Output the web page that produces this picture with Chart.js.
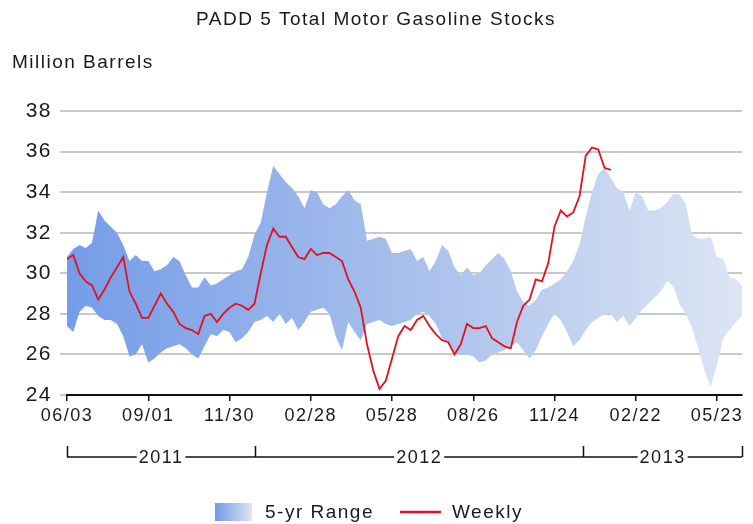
<!DOCTYPE html>
<html>
<head>
<meta charset="utf-8">
<script src="https://cdn.jsdelivr.net/npm/chart.js@4/dist/chart.umd.min.js"></script>
<style>
  body { margin: 0; background: #fff; }
  #wrap { width: 753px; height: 524px; position: relative; }
</style>
</head>
<body>
<div id="wrap"><canvas id="chart"></canvas></div>
<script>
// weekly stocks, million barrels, first week = 06/03/2011
const weekly = [30.7, 30.9, 30.0, 29.6, 29.4, 28.7, 29.2, 29.8, 30.3, 30.8,
    29.1, 28.5, 27.8, 27.8, 28.4, 29.0, 28.5, 28.1, 27.5, 27.3,
    27.2, 27.0, 27.9, 28.0, 27.6, 28.0, 28.3, 28.5, 28.4, 28.2,
    28.5, 30.0, 31.4, 32.2, 31.8, 31.8, 31.3, 30.8, 30.7, 31.2,
    30.9, 31.0, 31.0, 30.8, 30.6, 29.7, 29.1, 28.3, 26.5, 25.2,
    24.3, 24.7, 25.8, 26.9, 27.4, 27.2, 27.7, 27.9, 27.4, 27.0,
    26.7, 26.6, 26.0, 26.5, 27.5, 27.3, 27.3, 27.4, 26.8, 26.6,
    26.4, 26.3, 27.6, 28.4, 28.7, 29.7, 29.6, 30.5, 32.3, 33.1,
    32.8, 33.0, 33.8, 35.8, 36.2, 36.1, 35.2, 35.1]

// 5 year range, top and bottom
const range_high = [30.8, 31.2, 31.4, 31.25, 31.5, 33.1, 32.6, 32.3, 32.0, 31.4,
    30.6, 30.9, 30.6, 30.6, 30.1, 30.2, 30.4, 30.8, 30.6, 29.9,
    29.3, 29.3, 29.8, 29.4, 29.5, 29.7, 29.9, 30.1, 30.2, 30.8,
    31.9, 32.5, 34.0, 35.3, 34.9, 34.5, 34.2, 33.8, 33.2, 34.1,
    34.0, 33.4, 33.2, 33.4, 33.8, 34.1, 33.6, 33.4, 31.6, 31.7,
    31.8, 31.7, 31.0, 31.0, 31.1, 31.2, 30.6, 30.8, 30.1, 30.6,
    31.4, 31.1, 30.3, 29.9, 30.3, 29.9, 30.0, 30.4, 30.7, 31.0,
    30.7, 30.1, 29.1, 28.6, 28.4, 28.7, 29.2, 29.3, 29.5, 29.7,
    30.1, 30.6, 31.4, 32.8, 34.0, 34.9, 35.2, 34.7, 34.2, 34.0,
    33.1, 34.0, 33.8, 33.1, 33.1, 33.2, 33.5, 33.9, 33.9, 33.4,
    31.9, 31.7, 31.7, 31.8, 30.8, 30.7, 29.8, 29.7, 29.4]

const range_low = [27.4, 27.1, 28.1, 28.4, 28.3, 27.9, 27.7, 27.7, 27.5, 26.9,
    25.9, 26.0, 26.5, 25.6, 25.8, 26.1, 26.3, 26.4, 26.5, 26.3,
    26.0, 25.8, 26.4, 27.0, 26.9, 27.2, 27.1, 26.6, 26.8, 27.1,
    27.6, 27.7, 27.9, 27.6, 28.0, 27.5, 27.8, 27.2, 27.6, 28.1,
    28.2, 28.3, 28.0, 26.9, 26.2, 27.6, 27.1, 26.7, 27.5, 27.6,
    27.7, 27.5, 27.4, 27.5, 27.6, 27.7, 28.0, 28.1, 27.9, 27.5,
    26.8, 26.6, 26.1, 26.0, 26.0, 25.9, 25.6, 25.7, 26.0, 26.1,
    26.2, 26.4, 26.6, 26.2, 25.8, 26.2, 26.9, 27.5, 28.0, 27.7,
    27.1, 26.4, 26.7, 27.2, 27.6, 27.8, 28.0, 28.0, 27.6, 27.9,
    27.4, 27.8, 28.2, 28.5, 28.8, 29.1, 29.6, 29.4, 28.5, 28.0,
    27.3, 26.3, 25.2, 24.4, 25.5, 26.8, 27.2, 27.6, 27.9]

// one label every 13 weeks
const tick_labels = ['06/03', '09/01', '11/30', '02/28', '05/28', '08/26', '11/24', '02/22', '05/23']
const years = ['2011', '2012', '2013']
const year_edges = [0, 30.1, 82.6, 108]   // in weeks

const FONT = 'Liberation Sans, Arial, sans-serif'

function to_points(arr) {
    return arr.map((v, i) => ({ x: i, y: v }))
}

function band_gradient(c, left, right) {
    const g = c.createLinearGradient(left, 0, right, 0)
    g.addColorStop(0, '#759ce8')
    g.addColorStop(0.5, '#a7bfec')
    g.addColorStop(1, '#dde5f4')
    return g
}

const extras = {
    id: 'extras',
    beforeDraw: (chart) => {
        chart.ctx.letterSpacing = '1.5px'
    },
    afterDraw: (chart) => {
        const { ctx } = chart
        const xs = chart.scales.x
        ctx.save()
        ctx.fillStyle = '#1a1a1a'
        ctx.textBaseline = 'middle'

        // title + unit
        ctx.font = '19px ' + FONT
        ctx.textAlign = 'center'
        ctx.fillText('PADD 5 Total Motor Gasoline Stocks', 376, 20)
        ctx.textAlign = 'left'
        ctx.fillText('Million Barrels', 12, 63)

        // year brackets
        const y0 = 446, y1 = 457
        ctx.strokeStyle = '#111'
        ctx.lineWidth = 1.5
        ctx.beginPath()
        year_edges.forEach(v => {
            const px = Math.round(xs.getPixelForValue(v)) + 0.5
            ctx.moveTo(px, y0)
            ctx.lineTo(px, y1)
        })
        ctx.moveTo(xs.getPixelForValue(year_edges[0]), y1)
        ctx.lineTo(xs.getPixelForValue(year_edges[year_edges.length - 1]), y1)
        ctx.stroke()

        ctx.font = '18px ' + FONT
        ctx.textAlign = 'center'
        years.forEach((yr, i) => {
            const mid = (xs.getPixelForValue(year_edges[i]) + xs.getPixelForValue(year_edges[i + 1])) / 2
            const w = ctx.measureText(yr).width
            ctx.fillStyle = '#fff'
            ctx.fillRect(mid - w / 2 - 2, y1 - 3, w + 4, 6)
            ctx.fillStyle = '#1a1a1a'
            ctx.fillText(yr, mid, y1 + 1)
        })

        // legend
        ctx.fillStyle = band_gradient(ctx, 215, 252)
        ctx.fillRect(215, 503, 37, 18)
        ctx.fillStyle = '#1a1a1a'
        ctx.font = '19px ' + FONT
        ctx.textAlign = 'left'
        ctx.fillText('5-yr Range', 265, 513)
        ctx.strokeStyle = '#e3101e'
        ctx.lineWidth = 2.5
        ctx.beginPath()
        ctx.moveTo(400, 512)
        ctx.lineTo(441, 512)
        ctx.stroke()
        ctx.fillText('Weekly', 452, 513)
        ctx.restore()
    }
}

new Chart(document.getElementById('chart'), {
    type: 'line',
    data: {
        datasets: [
            {
                label: 'low',
                data: to_points(range_low),
                borderWidth: 0,
                pointRadius: 0,
                fill: false,
                order: 2,
            },
            {
                label: '5-yr Range',
                data: to_points(range_high),
                borderWidth: 0,
                pointRadius: 0,
                fill: '-1',
                order: 1,
                backgroundColor: (c) => {
                    const area = c.chart.chartArea
                    if (!area) return '#a9c0ec'
                    return band_gradient(c.chart.ctx, area.left, area.right)
                },
            },
            {
                label: 'Weekly',
                data: to_points(weekly),
                borderColor: '#e3101e',
                borderWidth: 1.8,
                pointRadius: 0,
                fill: false,
                tension: 0,
                order: 0,
            },
        ]
    },
    options: {
        responsive: true,
        maintainAspectRatio: false,
        animation: false,
        layout: { padding: { top: 111, right: 11, bottom: 0, left: 0 } },
        plugins: {
            legend: { display: false },
            tooltip: { enabled: false },
            filler: { drawTime: 'beforeDatasetsDraw' },
        },
        scales: {
            x: {
                type: 'linear',
                min: 0,
                max: 108,
                afterFit: (s) => { s.height = 129 },
                border: { display: true, color: '#111', width: 2 },
                grid: { drawOnChartArea: false, color: '#111', tickLength: 6, lineWidth: 1.5 },
                ticks: {
                    stepSize: 13,
                    includeBounds: false,
                    autoSkip: false,
                    maxRotation: 0,
                    padding: 4,
                    color: '#1a1a1a',
                    font: { family: FONT, size: 18 },
                    callback: (v) => tick_labels[v / 13],
                },
            },
            y: {
                min: 24,
                max: 38,
                afterFit: (s) => { s.width = 67 },
                border: { display: false },
                grid: { color: '#c9c9c9', lineWidth: 2, tickLength: 7 },
                ticks: {
                    stepSize: 2,
                    padding: 8,
                    color: '#1a1a1a',
                    font: { family: FONT, size: 21 },
                },
            },
        },
    },
    plugins: [extras],
})
</script>
</body>
</html>
